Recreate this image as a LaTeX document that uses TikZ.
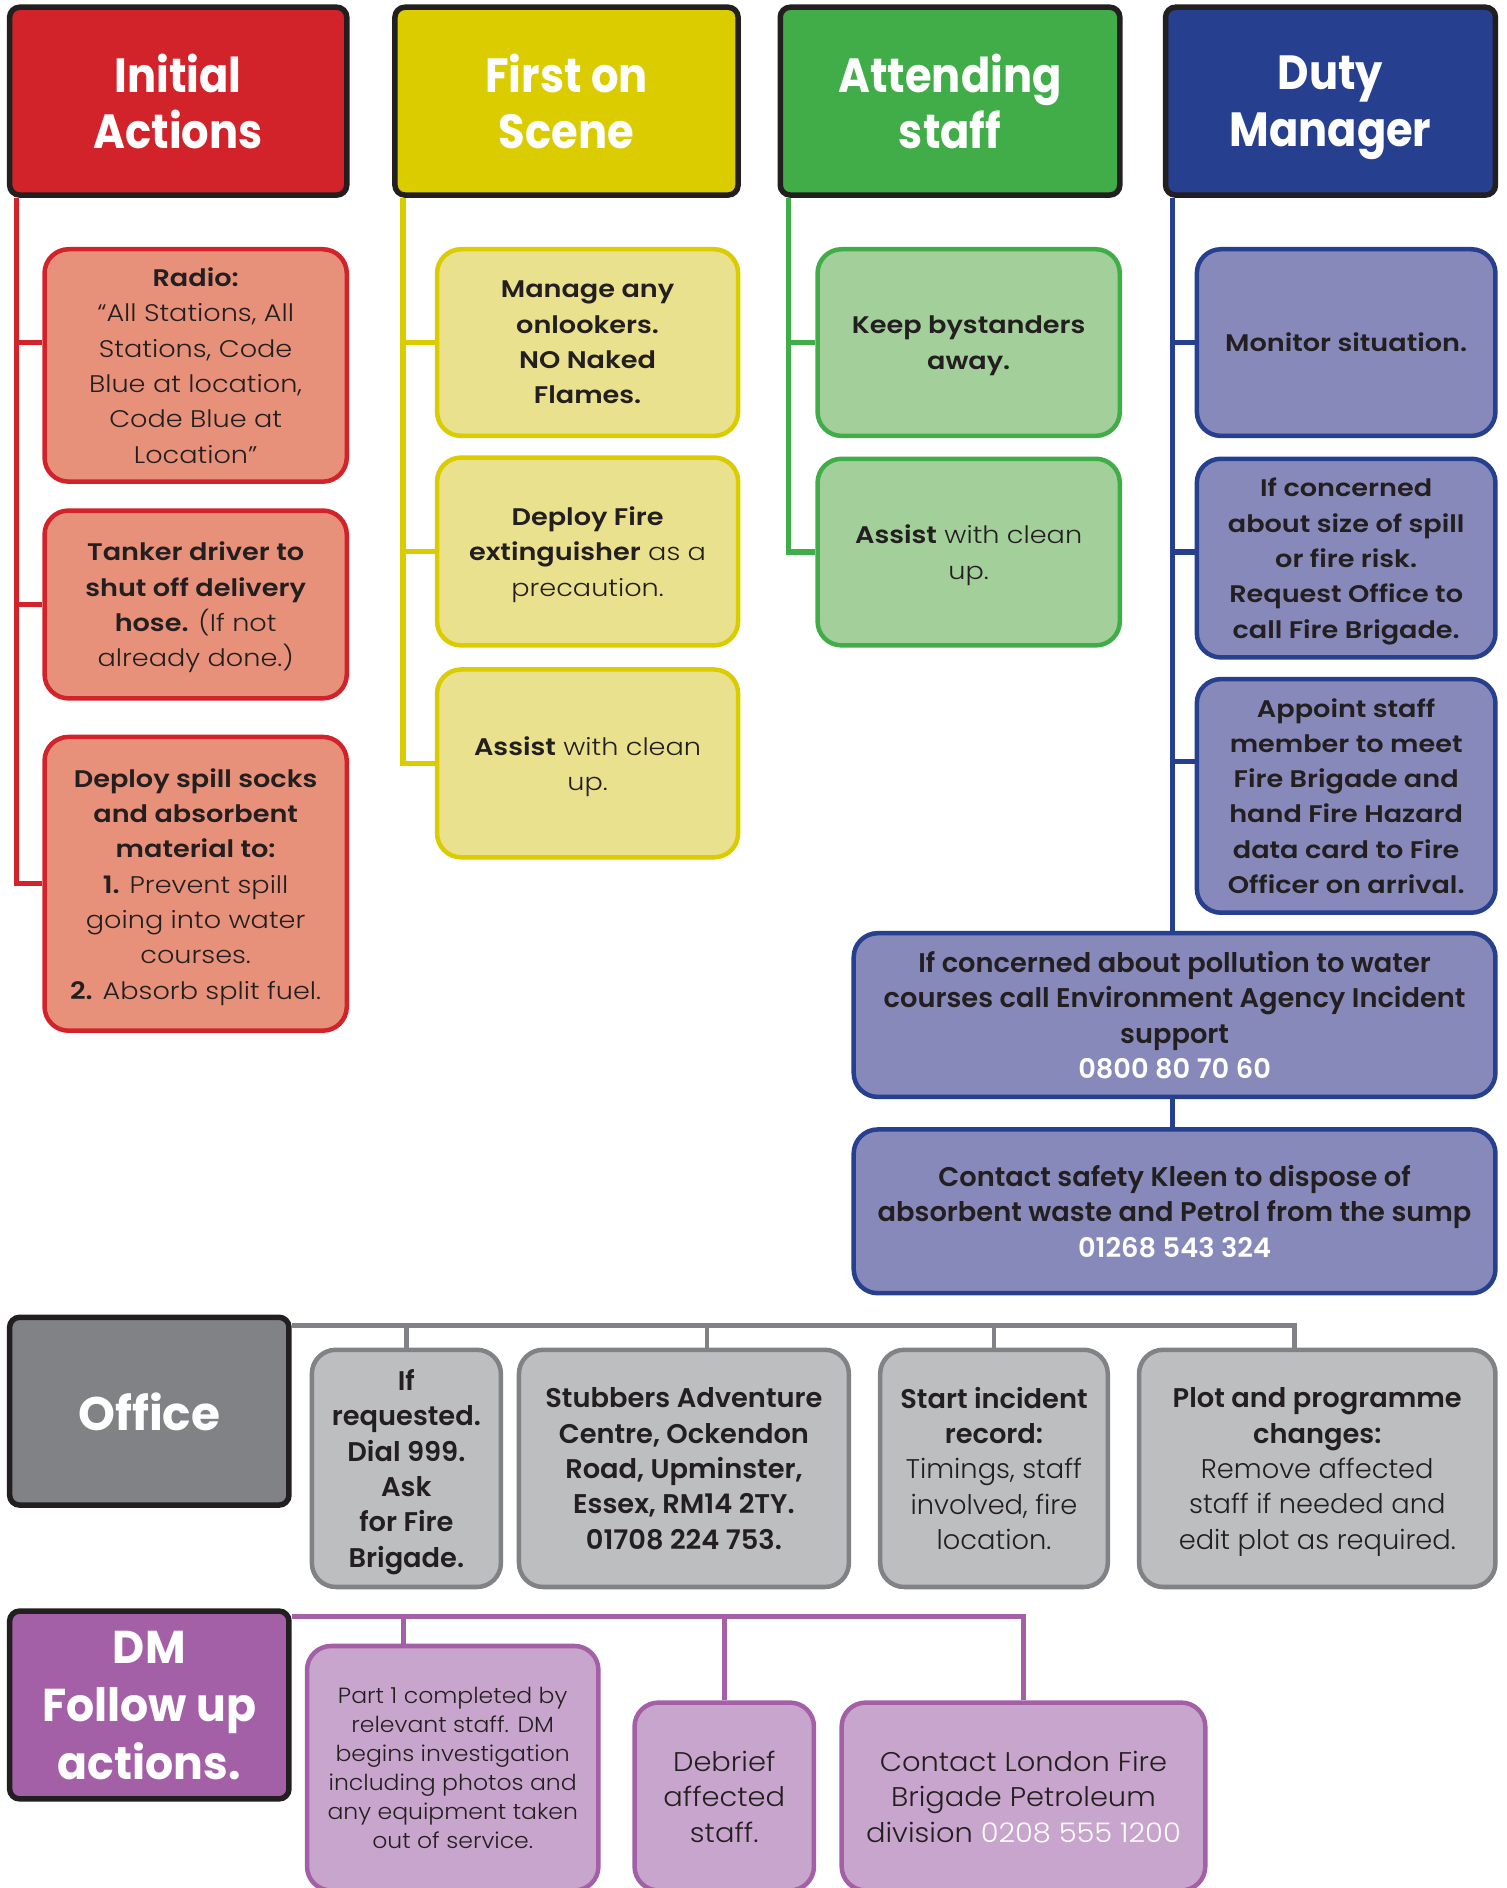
\documentclass[tikz,border=0pt]{standalone}
\usepackage{fontspec}
\setmainfont{Poppins Light}[BoldFont={Poppins SemiBold}, FakeStretch=1.13]
\newfontfamily\condfont{Poppins Light}[BoldFont={Poppins SemiBold}, FakeStretch=1.01]
\newfontfamily\softfont{Poppins Light}[FakeStretch=1.07]
\newfontfamily\headfont{Poppins}[FakeStretch=0.9]
\newfontfamily\dmfont{Poppins}[FakeStretch=0.96]
\newfontfamily\officefont{Poppins}[FakeStretch=1.0]
\usetikzlibrary{backgrounds,calc}

\definecolor{ink}{HTML}{231F20}
\definecolor{redH}{HTML}{D2232A}
\definecolor{redF}{HTML}{E8917A}
\definecolor{yelH}{HTML}{DBCC00}
\definecolor{yelF}{HTML}{E9E18D}
\definecolor{grnH}{HTML}{41AD49}
\definecolor{grnF}{HTML}{A3CF9B}
\definecolor{bluH}{HTML}{263F8F}
\definecolor{bluF}{HTML}{8789BA}
\definecolor{greyH}{HTML}{808285}
\definecolor{greyF}{HTML}{BCBEC0}
\definecolor{purH}{HTML}{A460A7}
\definecolor{purF}{HTML}{C8A5CC}

\newcommand\dpx{1.2038pt}

\tikzset{
  sz/.style 2 args={minimum width=#1*1.2038pt, minimum height=#2*1.2038pt},
  head/.style={draw=ink, line width=5.5pt, rounded corners=10pt, text=white,
    align=center, inner sep=0pt, text depth=0pt,
    font=\headfont\bfseries\fontsize{48}{56.5}\selectfont},
  card/.style={line width=4.5pt, rounded corners=24pt, text=ink, align=center,
    inner sep=0pt, text depth=0pt, font=\fontsize{24}{35.3}\selectfont},
  rcard/.style={card, draw=redH, fill=redF},
  ycard/.style={card, draw=yelH, fill=yelF},
  gcard/.style={card, draw=grnH, fill=grnF},
  bcard/.style={card, draw=bluH, fill=bluF},
  ocard/.style={card, draw=greyH, fill=greyF, font=\condfont\fontsize{27}{35.3}\selectfont},
  pcard/.style={card, draw=purH, fill=purF},
  link/.style={line width=5.2pt},
  glink/.style={line width=4.3pt, greyH}
}

\begin{document}
\begin{tikzpicture}[x=1.2038pt, y=-1.2038pt]
\useasboundingbox (0,0) rectangle (1251,1568);

% ---- column headers
\node[head, fill=redH, sz={280}{156}] (h1) at (148,84) {Initial\\Actions};
\node[head, fill=yelH, sz={285}{156}] (h2) at (470.5,84) {First on\\Scene};
\node[head, fill=grnH, sz={282}{156}] (h3) at (789,84) {Attending\\staff};
\node[head, fill=bluH, sz={274}{156}] (h4) at (1105,84) {Duty\\Manager};

% ---- initial actions
\node[rcard, sz={251}{193}] (r1) at (162.5,303.5)
  {\textbf{Radio:}\\“All Stations, All\\Stations, Code\\Blue at location,\\Code Blue at\\Location”};
\node[rcard, sz={251}{156}] (r2) at (162.5,502)
  {\textbf{Tanker driver to}\\\textbf{shut off delivery}\\\textbf{hose.} (If not\\already done.)};
\node[rcard, sz={251}{244}] (r3) at (162.5,734)
  {\textbf{Deploy spill socks}\\\textbf{and absorbent}\\\textbf{material to:}\\\textbf{1.} Prevent spill\\going into water\\courses.\\\textbf{2.} Absorb split fuel.};

% ---- first on scene
\node[ycard, sz={250}{155}] (y1) at (488,284.5)
  {\textbf{Manage any}\\\textbf{onlookers.}\\\textbf{NO Naked}\\\textbf{Flames.}};
\node[ycard, sz={250}{156}] (y2) at (488,458)
  {\textbf{Deploy Fire}\\\textbf{extinguisher} as a\\precaution.};
\node[ycard, sz={250}{156}] (y3) at (488,634)
  {\textbf{Assist} with clean\\up.};

% ---- attending staff
\node[gcard, sz={251}{155}] (g1) at (804.5,284.5) {\textbf{Keep bystanders}\\\textbf{away.}};
\node[gcard, sz={251}{155}] (g2) at (804.5,458.5) {\textbf{Assist} with clean\\up.};

% ---- duty manager
\node[bcard, sz={248}{155}] (b1) at (1118,284.5) {\textbf{Monitor situation.}};
\node[bcard, sz={248}{165}] (b2) at (1118,463.5)
  {\textbf{If concerned}\\\textbf{about size of spill}\\\textbf{or fire risk.}\\\textbf{Request Office to}\\\textbf{call Fire Brigade.}};
\node[bcard, sz={248}{194}] (b3) at (1118,661)
  {\textbf{Appoint staff}\\\textbf{member to meet}\\\textbf{Fire Brigade and}\\\textbf{hand Fire Hazard}\\\textbf{data card to Fire}\\\textbf{Officer on arrival.}};
\node[bcard, sz={533}{136}, font=\condfont\bfseries\fontsize{27}{35.3}\selectfont] (b4) at (975.5,843)
  {If concerned about pollution to water\\courses call Environment Agency Incident\\support\\\textcolor{white}{0800 80 70 60}};
\node[bcard, sz={533}{136}, font=\condfont\bfseries\fontsize{27}{35.3}\selectfont] (b5) at (975.5,1006)
  {Contact safety Kleen to dispose of\\absorbent waste and Petrol from the sump\\\textcolor{white}{01268 543 324}};

% ---- office row
\node[head, fill=greyH, sz={232}{156}, font=\officefont\bfseries\fontsize{47}{56}\selectfont] (office) at (124,1172) {Office};
\node[ocard, sz={157}{197}, font=\condfont\bfseries\fontsize{27}{35.3}\selectfont] (o1) at (337.5,1219.5)
  {If\\requested.\\Dial 999.\\Ask\\for Fire\\Brigade.};
\node[ocard, sz={274}{197}, font=\condfont\bfseries\fontsize{27}{35.3}\selectfont] (o2) at (568,1219.5)
  {Stubbers Adventure\\Centre, Ockendon\\Road, Upminster,\\Essex, RM14 2TY.\\01708 224 753.};
\node[ocard, sz={189}{197}] (o3) at (825.5,1219.5)
  {\textbf{Start incident}\\\textbf{record:}\\Timings, staff\\involved, fire\\location.};
\node[ocard, sz={296}{197}] (o4) at (1094,1219.5)
  {\textbf{Plot and programme}\\\textbf{changes:}\\Remove affected\\staff if needed and\\edit plot as required.};

% ---- DM follow up row
\node[head, fill=purH, sz={232}{156}, font=\dmfont\bfseries\fontsize{46}{58}\selectfont] (dm) at (124,1416) {DM\\Follow up\\actions.};
\node[pcard, sz={242}{203}, font=\softfont\fontsize{22}{29}\selectfont] (p1) at (376,1468.5)
  {Part 1 completed by\\relevant staff. DM\\begins investigation\\including photos and\\any equipment taken\\out of service.};
\node[pcard, sz={149}{156}, font=\softfont\fontsize{27}{35.5}\selectfont] (p2) at (601.5,1492)
  {Debrief\\affected\\staff.};
\node[pcard, sz={302}{156}, font=\softfont\fontsize{27}{35.5}\selectfont] (p3) at (850,1492)
  {Contact London Fire\\Brigade Petroleum\\division \textcolor{white}{0208 555 1200}};

% ---- connectors, kept behind the boxes
\begin{pgfonlayer}{background}
  \fill[white] (0,0) rectangle (1251,1568);
  % initial actions
  \coordinate (rt) at ([xshift=8*\dpx]h1.south west);
  \draw[link, redH] (rt) |- ($(r1.north west)!0.404!(r1.south west)$);
  \draw[link, redH] (rt) |- (r2.west);
  \draw[link, redH] (rt) |- (r3.west);
  % first on scene
  \coordinate (yt) at ([xshift=9*\dpx]h2.south west);
  \draw[link, yelH] (yt) |- (y1.west);
  \draw[link, yelH] (yt) |- (y2.west);
  \draw[link, yelH] (yt) |- (y3.west);
  % attending staff
  \coordinate (gt) at ([xshift=9*\dpx]h3.south west);
  \draw[link, grnH] (gt) |- (g1.west);
  \draw[link, grnH] (gt) |- (g2.west);
  % duty manager
  \coordinate (bt) at ([xshift=8*\dpx]h4.south west);
  \draw[link, bluH] (bt) -- (bt |- b4.north);
  \draw[link, bluH] (bt) |- (b1.west);
  \draw[link, bluH] (bt) |- ($(b2.north west)!0.47!(b2.south west)$);
  \draw[link, bluH] (bt) |- ($(b3.north west)!0.356!(b3.south west)$);
  \draw[link, bluH] (b4.north -| bt) -- (b5.north -| bt);
  % office
  \coordinate (gbus) at ([yshift=-9*\dpx]office.north east);
  \draw[glink] (gbus) -| ([xshift=-19*\dpx]o4.north);
  \draw[glink] (o1.north) -- (o1.north |- gbus);
  \draw[glink] ([xshift=19*\dpx]o2.north) -- ([xshift=19*\dpx]o2.north |- gbus);
  \draw[glink] (o3.north) -- (o3.north |- gbus);
  % dm follow up
  \coordinate (pbus) at ([yshift=-7*\dpx]dm.north east);
  \draw[link, purH] (pbus) -| (p3.north);
  \draw[link, purH] ([xshift=-41*\dpx]p1.north) -- ([xshift=-41*\dpx]p1.north |- pbus);
  \draw[link, purH] (p2.north) -- (p2.north |- pbus);
\end{pgfonlayer}
\end{tikzpicture}
\end{document}
